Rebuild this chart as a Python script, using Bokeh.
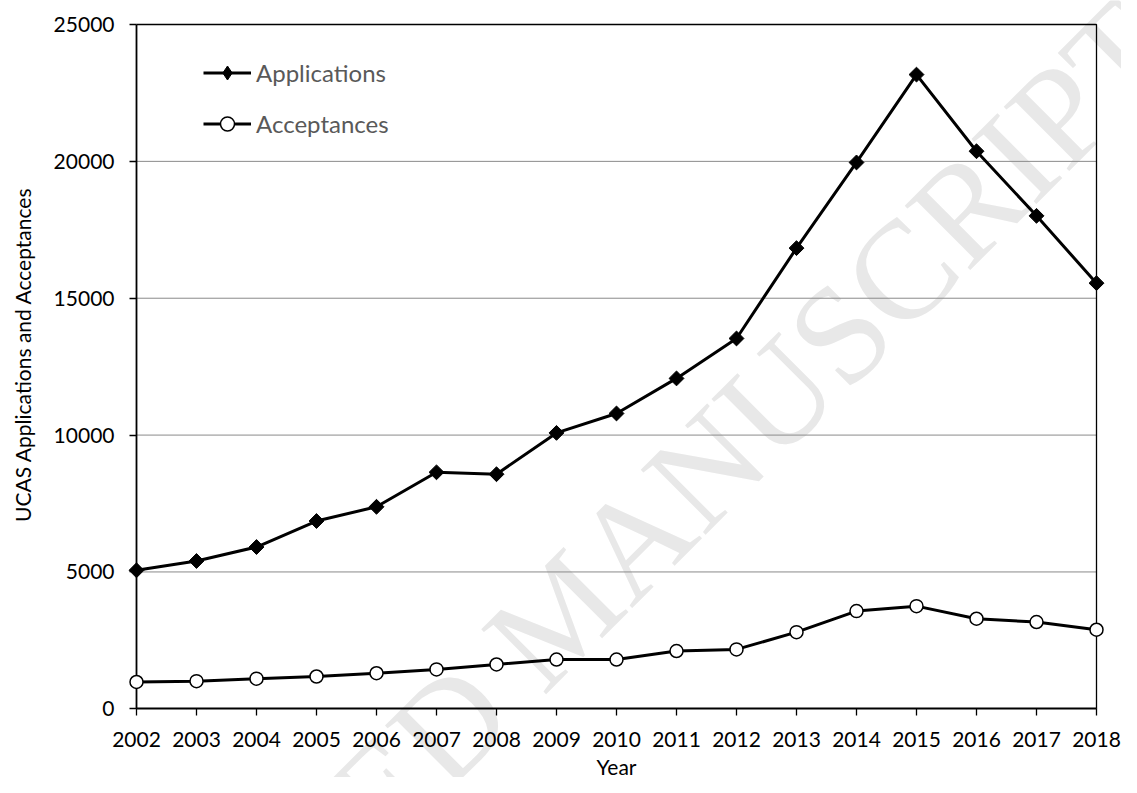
import numpy as np
from bokeh.plotting import figure
from bokeh.models import Range1d, FixedTicker, Legend, LegendItem, Label
from bokeh.embed import file_html
from bokeh.resources import INLINE

# ---- data ----
years = list(range(2002, 2019))
applications = [5060, 5400, 5910, 6860, 7380, 8640, 8570, 10080, 10790, 12070,
                13530, 16830, 19960, 23170, 20370, 18010, 15550]
acceptances = [980, 1010, 1100, 1180, 1300, 1440, 1620, 1800, 1800, 2110,
               2170, 2800, 3570, 3750, 3290, 3170, 2890]
y_ticks = [0, 5000, 10000, 15000, 20000, 25000]
series_names = ["Applications", "Acceptances"]
x_title = "Year"
y_title = "UCAS Applications and Acceptances"
watermark = "ACCEPTED MANUSCRIPT"

x_lo, x_hi = years[0], years[-1]
y_lo, y_hi = y_ticks[0], y_ticks[-1]

# ---- layout (pixels) ----
W, H = 1121, 777
X0_PX, PX_PER_YEAR = 136, 60.0          # where the first year sits, spacing
Y0_PX, YTOP_PX = 708.3, 24.0            # where 0 and the top tick sit
py = (Y0_PX - YTOP_PX) / (y_hi - y_lo)  # px per unit

x_start = x_lo - X0_PX / PX_PER_YEAR
x_end = x_start + W / PX_PER_YEAR
y_end = y_lo + Y0_PX / py
y_start = y_end - H / py

def px_x(px):
    return x_start + px / PX_PER_YEAR

def px_y(px):
    return y_end - px / py

FONT = "Lato"

p = figure(width=W, height=H, output_backend="svg", toolbar_location=None,
           x_range=Range1d(x_start, x_end), y_range=Range1d(y_start, y_end),
           min_border=0)
p.title.visible = False
p.outline_line_color = None
p.background_fill_color = "white"
p.border_fill_color = "white"
p.xgrid.visible = False
p.ygrid.visible = False

# watermark
p.add_layout(Label(x=px_x(560), y=px_y(612), text=watermark, angle=45, angle_units="deg",
                   text_font="Liberation Serif", text_font_size="140px",
                   text_color="#e8e8e8", text_align="center", text_baseline="middle",
                   level="underlay"))

# gridlines, left axis line and plot box
grid_vals = y_ticks[1:-1]
p.segment(x0=x_lo, x1=x_hi, y0=grid_vals, y1=grid_vals, line_color="#8a8a8a", line_width=1)
p.line(x=[x_lo, x_hi, x_hi], y=[y_hi, y_hi, y_lo], line_color="black", line_width=1.3)
p.line(x=[x_lo, x_lo], y=[y_lo, y_hi], line_color="black", line_width=1.8)

# series
app_line = p.line(years, applications, line_color="black", line_width=3, line_join="round")
app_mark = p.scatter(years, applications, marker="square", angle=np.pi / 4, size=10.5,
                     fill_color="black", line_color="black", line_width=1)
acc_line = p.line(years, acceptances, line_color="black", line_width=3, line_join="round")
acc_mark = p.scatter(years, acceptances, marker="circle", size=13,
                     fill_color="white", line_color="black", line_width=1.5)

# legend-only marker (diamond shape, not drawn in the plot)
leg_diamond = p.scatter([x_lo], [y_lo], marker="diamond", size=14,
                        fill_color="black", line_color="black", visible=False)

# axes
for ax in (p.xaxis, p.yaxis):
    ax.major_tick_out = 7
    ax.major_tick_in = 0
    ax.minor_tick_line_color = None
    ax.axis_line_color = "black"
    ax.axis_line_width = 1.8
    ax.major_tick_line_color = "black"
    ax.major_tick_line_width = 1.3
    ax.major_label_text_font = FONT
    ax.major_label_text_font_size = "21px"
    ax.major_label_text_color = "black"
    ax.axis_label_text_font = FONT
    ax.axis_label_text_font_size = "21px"
    ax.axis_label_text_font_style = "normal"
    ax.axis_label_text_color = "black"

p.xaxis.fixed_location = y_lo
p.xaxis.bounds = (x_lo, x_hi)
p.xaxis.ticker = FixedTicker(ticks=years)
p.xaxis.major_label_standoff = 16
p.xaxis.axis_label = x_title
p.xaxis.axis_label_standoff = 4

# y axis: line drawn above as a glyph; bounds stretched upward so the
# title sits a little above the middle, as in the reference
p.yaxis.fixed_location = x_lo
p.yaxis.bounds = (y_lo, 27420)
p.yaxis.axis_line_color = None
p.yaxis.ticker = FixedTicker(ticks=y_ticks)
p.yaxis.major_label_standoff = 15
p.yaxis.axis_label = y_title
p.yaxis.axis_label_standoff = 16

legend = Legend(items=[LegendItem(label=series_names[0], renderers=[app_line, leg_diamond]),
                       LegendItem(label=series_names[1], renderers=[acc_line, acc_mark])],
                location=(203, 636), orientation="vertical",
                glyph_width=48, glyph_height=35, label_height=35, spacing=16,
                padding=0, margin=0, label_standoff=5,
                label_text_font=FONT, label_text_font_size="24px",
                label_text_color="#595959", border_line_color=None,
                background_fill_alpha=0)
p.add_layout(legend)

open("out.html", "w").write(file_html(p, INLINE))
